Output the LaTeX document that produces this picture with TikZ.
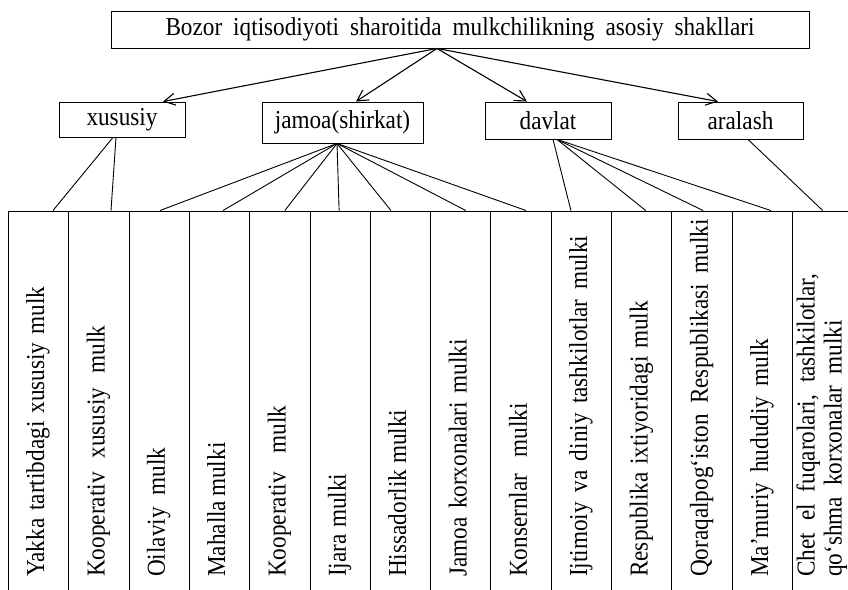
\documentclass[tikz,border=0pt]{standalone}
\usepackage{fontspec}
\setmainfont{Liberation Serif}[FakeStretch=0.9]
\usetikzlibrary{arrows.meta}
\newcommand{\ws}[1]{\spaceskip=#1pt\relax}
\begin{document}
\begin{tikzpicture}[x=1pt,y=-1pt,
  every node/.style={font=\fontsize{25.8}{27}\selectfont, inner sep=0pt},
  box/.style={draw, line width=0.9pt},
  col/.style={draw, line width=0.9pt, minimum width=60.33pt, minimum height=384pt},
  coltext/.style={rotate=90, anchor=west, text height=17.5pt, text depth=6pt},
  coltwo/.style={rotate=90, anchor=west, align=left},
  arr/.style={-{Straight Barb[length=11pt,width=12pt]}, line width=1.1pt},
  lnk/.style={line width=0.9pt}]
\useasboundingbox (0,0) rectangle (848,589);
\clip (0,0) rectangle (848,589);
% title
\node[box, minimum width=698pt, minimum height=37pt] (title) at (460,29.5)
  {\ws{11}Bozor iqtisodiyoti sharoitida mulkchilikning asosiy shakllari};
% categories
\node[box, minimum width=126pt, minimum height=35pt] (xus) at (122,119.5) {xususiy};
\node[box, minimum width=161pt, minimum height=41pt] (jam) at (342.5,122.5) {jamoa(shirkat)};
\node[box, minimum width=126pt, minimum height=37pt] (dav) at (548,120.5) {davlat};
\node[box, minimum width=125pt, minimum height=37pt] (ara) at (740.5,120.5) {aralash};
% arrows
\coordinate (ts) at ([xshift=-23pt]title.south);
\draw[arr] (ts) -- ([xshift=41pt]xus.north);
\draw[arr] (ts) -- ([xshift=13.5pt]jam.north);
\draw[arr] (ts) -- ([xshift=-21pt]dav.north);
\draw[arr] (ts) -- ([xshift=-22.5pt]ara.north);
% columns
\foreach \i in {1,...,14}
  \node[col] (c\i) at ({8.3+60.33*(\i-0.5)},403) {};
\coordinate (base) at (0,577);
\node[coltext] (t1) at (c1 |- base) {\ws{8}Yakka tartibdagi xususiy mulk};
\node[coltext] (t2) at (c2 |- base) {\ws{14}Kooperativ xususiy mulk};
\node[coltext] (t3) at (c3 |- base) {\ws{12}Oilaviy mulk};
\node[coltext] (t4) at (c4 |- base) {\ws{4}Mahalla mulki};
\node[coltext] (t5) at (c5 |- base) {\ws{19}Kooperativ mulk};
\node[coltext] (t6) at (c6 |- base) {\ws{6.5}Ijara mulki};
\node[coltext] (t7) at (c7 |- base) {\ws{6}Hissadorlik mulki};
\node[coltext] (t8) at (c8 |- base) {\ws{8.5}Jamoa korxonalari mulki};
\node[coltext] (t9) at (c9 |- base) {\ws{16}Konsernlar mulki};
\node[coltext] (t10) at (c10 |- base) {\ws{9.5}Ijtimoiy va diniy tashkilotlar mulki};
\node[coltext] (t11) at (c11 |- base) {\ws{7.5}Respublika ixtiyoridagi mulk};
\node[coltext] (t12) at (c12 |- base) {\ws{10.5}Qoraqalpog‘iston Respublikasi mulki};
\node[coltext] (t13) at (c13 |- base) {\ws{10}Ma’muriy hududiy mulk};
\node[coltwo] (t14) at ([xshift=-1pt]c14 |- base) {\ws{12}Chet el fuqarolari, tashkilotlar,\\\ws{11}qo‘shma korxonalar mulki};
% links
\draw[lnk] ([xshift=-9pt]xus.south) -- ([xshift=14.5pt]c1.north);
\draw[lnk] ([xshift=-6pt]xus.south) -- ([xshift=12.2pt]c2.north);
\draw[lnk] ([xshift=-5.5pt]jam.south) -- ([xshift=0.8pt]c3.north);
\draw[lnk] ([xshift=-5.5pt]jam.south) -- ([xshift=3.5pt]c4.north);
\draw[lnk] ([xshift=-5.5pt]jam.south) -- ([xshift=5pt]c5.north);
\draw[lnk] ([xshift=-5.5pt]jam.south) -- ([xshift=-1pt]c6.north);
\draw[lnk] ([xshift=-5.5pt]jam.south) -- ([xshift=-9.5pt]c7.north);
\draw[lnk] ([xshift=-5.5pt]jam.south) -- ([xshift=5pt]c8.north);
\draw[lnk] ([xshift=-5.5pt]jam.south) -- ([xshift=5pt]c9.north);
\draw[lnk] ([xshift=5pt]dav.south) -- ([xshift=-10.5pt]c10.north);
\draw[lnk] ([xshift=9pt]dav.south) -- ([xshift=4pt]c11.north);
\draw[lnk] ([xshift=9pt]dav.south) -- ([xshift=1pt]c12.north);
\draw[lnk] ([xshift=9pt]dav.south) -- ([xshift=8.5pt]c13.north);
\draw[lnk] ([xshift=7.5pt]ara.south) -- (c14.north);
\end{tikzpicture}
\end{document}
